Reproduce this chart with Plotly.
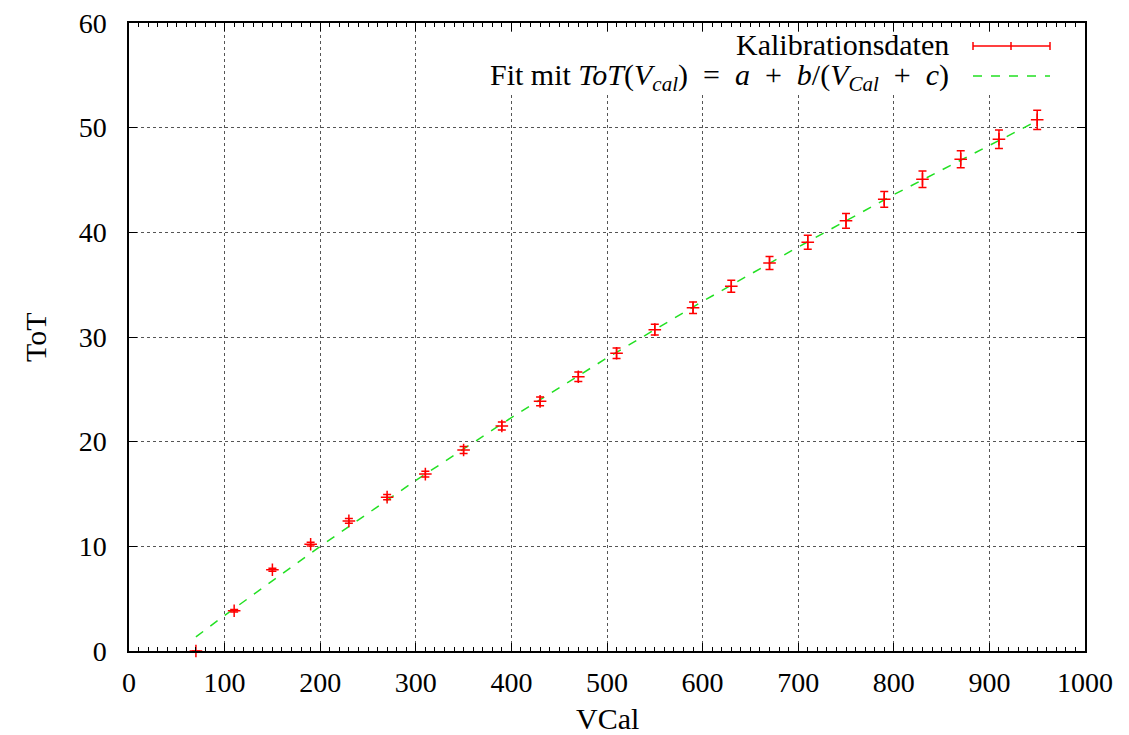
import plotly.graph_objects as go

# Calibration data
vcal = [70, 110, 150, 190, 230, 270, 310, 350, 390, 430, 470, 510, 550,
        590, 630, 670, 710, 750, 790, 830, 870, 910, 950]
tot = [0.0, 3.85, 7.76, 10.2, 12.43, 14.7, 16.9, 19.2, 21.5, 23.85, 26.2, 28.45, 30.7,
       32.8, 34.85, 37.07, 39.05, 41.1, 43.15, 45.07, 46.98, 48.9, 50.75]
tot_err = [0.0, 0.12, 0.15, 0.18, 0.22, 0.25, 0.28, 0.34, 0.38, 0.41, 0.45, 0.5, 0.52,
           0.55, 0.58, 0.62, 0.66, 0.7, 0.75, 0.78, 0.82, 0.88, 0.92]

# Fit curve
fit_x = [70, 100, 200, 300, 400, 500, 600, 700, 800, 900, 950]
fit_y = [1.35, 3.4, 10.0, 16.3, 22.3, 28.0, 33.4, 38.6, 43.6, 48.35, 50.65]

x_ticks = [0, 100, 200, 300, 400, 500, 600, 700, 800, 900, 1000]
y_ticks = [0, 10, 20, 30, 40, 50, 60]

FONT = "Liberation Serif"
RED = "#ff0000"
GREEN = "#22e022"

# page body adds an 8px offset; target frame coordinates below are in window pixels
OFF = 8
W, H = 1129 - OFF, 735 - OFF
L, R, T, B = 129 - OFF, 44, 23 - OFF, 84
PW, PH = W - L - R, H - T - B


def px(xp):
    return (xp - OFF - L) / PW


def py(yp):
    return (H - B - (yp - OFF)) / PH


fig = go.Figure()
fig.add_trace(go.Scatter(
    x=fit_x, y=fit_y, mode="lines",
    line=dict(color=GREEN, width=1.5, dash="dash"),
    name="Fit", showlegend=False, hoverinfo="skip"))
fig.add_trace(go.Scatter(
    x=vcal, y=tot, mode="markers",
    marker=dict(symbol="cross-thin", size=9, line=dict(color=RED, width=1.5), color=RED),
    error_y=dict(type="data", array=tot_err, visible=True, color=RED, thickness=1.5, width=4),
    name="Kalibrationsdaten", showlegend=False, cliponaxis=False))

axis_common = dict(
    showline=True, linecolor="black", linewidth=1.5, mirror="ticks",
    ticks="inside", ticklen=8, tickwidth=1.2, tickcolor="black",
    showgrid=True, gridcolor="#555555", griddash="dot", gridwidth=1,
    zeroline=False, tickfont=dict(family=FONT, size=28, color="black"),
    ticklabeloverflow="allow",
)

fig.update_xaxes(range=[0, 1000], tickvals=x_ticks, ticktext=[str(v) for v in x_ticks],
                 minor=dict(dtick=10, ticks="inside", ticklen=4, tickcolor="black", showgrid=False),
                 ticklabelstandoff=6, **axis_common)
fig.update_yaxes(range=[0, 60], tickvals=y_ticks, ticktext=[str(v) for v in y_ticks],
                 ticklabelstandoff=15, **axis_common)

LEG = 30
sp = "\u2002"
annotations = [
    dict(text="VCal", x=px(607), y=py(718), xref="paper", yref="paper", showarrow=False,
         font=dict(family=FONT, size=30, color="black"), xanchor="center", yanchor="middle"),
    dict(text="ToT", x=px(35), y=py(337), xref="paper", yref="paper", showarrow=False,
         textangle=-90, font=dict(family=FONT, size=30, color="black"),
         xanchor="center", yanchor="middle"),
    dict(text="Kalibrationsdaten", x=px(950), y=py(44), xref="paper", yref="paper",
         showarrow=False, font=dict(family=FONT, size=LEG, color="black"),
         xanchor="right", yanchor="middle", borderpad=0),
    dict(text=f"Fit mit <i>ToT</i>(<i>V<sub>cal</sub></i>){sp}={sp}<i>a</i>{sp}+{sp}<i>b</i>/(<i>V<sub>Cal</sub></i>{sp}+{sp}<i>c</i>)",
         x=px(950), y=py(77), xref="paper", yref="paper",
         showarrow=False, font=dict(family=FONT, size=LEG, color="black"),
         xanchor="right", yanchor="middle", borderpad=0),
]

shapes = [
    # white legend background covering the grid
    dict(type="rect", xref="paper", yref="paper", x0=px(445), x1=px(1062), y0=py(95), y1=py(32),
         fillcolor="white", line=dict(width=0), layer="above"),
    dict(type="line", xref="paper", yref="paper", x0=px(973), x1=px(1050), y0=py(46), y1=py(46),
         line=dict(color=RED, width=1.5), layer="above"),
    dict(type="line", xref="paper", yref="paper", x0=px(973), x1=px(973), y0=py(42), y1=py(50),
         line=dict(color=RED, width=1.5), layer="above"),
    dict(type="line", xref="paper", yref="paper", x0=px(1050), x1=px(1050), y0=py(42), y1=py(50),
         line=dict(color=RED, width=1.5), layer="above"),
    dict(type="line", xref="paper", yref="paper", x0=px(1011), x1=px(1011), y0=py(42), y1=py(50),
         line=dict(color=RED, width=1.5), layer="above"),
    dict(type="line", xref="paper", yref="paper", x0=px(973), x1=px(1050), y0=py(76), y1=py(76),
         line=dict(color=GREEN, width=1.5, dash="dash"), layer="above"),
]

fig.update_layout(
    width=W, height=H,
    margin=dict(l=L, r=R, t=T, b=B, autoexpand=False),
    paper_bgcolor="white", plot_bgcolor="white",
    showlegend=False,
    annotations=annotations, shapes=shapes,
    font=dict(family=FONT, color="black"),
)

fig.write_html("out.html")
